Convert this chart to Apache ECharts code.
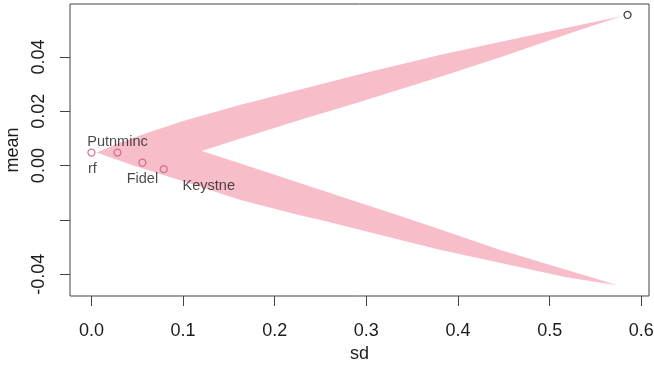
<!DOCTYPE html>
<html>
<head>
<meta charset="utf-8">
<script src="https://cdn.jsdelivr.net/npm/echarts@6/dist/echarts.min.js"></script>
<style>
html, body { margin: 0; padding: 0; background: #ffffff; }
#chart { width: 654px; height: 368px; }
</style>
</head>
<body>
<div id="chart"></div>
<script>
// Feasible region of random portfolios: boundary traced in four pieces
// upper band, outer edge (left tip -> top tip)
const upperOuterSd   = [0.0055, 0.0309, 0.0636, 0.1018, 0.1618, 0.2491, 0.2927, 0.3800, 0.4454, 0.5327, 0.5796];
const upperOuterMean = [0.0048, 0.0084, 0.0124, 0.0166, 0.0223, 0.0299, 0.0336, 0.0407, 0.0455, 0.0518, 0.0551];
// upper band, inner edge (top tip -> notch)
const upperInnerSd   = [0.5327, 0.4454, 0.3800, 0.2927, 0.2273, 0.1672, 0.1203];
const upperInnerMean = [0.0499, 0.0398, 0.0326, 0.0234, 0.0168, 0.0104, 0.0054];
// lower band, inner edge (notch -> bottom tip)
const lowerInnerSd   = [0.1618, 0.2273, 0.2927, 0.3363, 0.3800, 0.4454, 0.5181, 0.5741];
const lowerInnerMean = [0.0009, -0.0064, -0.0137, -0.0185, -0.0234, -0.0310, -0.0383, -0.0440];
// lower band, outer edge (bottom tip -> left tip)
const lowerOuterSd   = [0.5181, 0.4454, 0.3800, 0.3363, 0.2927, 0.2491, 0.2273, 0.1618, 0.1018, 0.0472];
const lowerOuterMean = [-0.0411, -0.0358, -0.0310, -0.0273, -0.0236, -0.0199, -0.0183, -0.0126, -0.0059, -0.0001];

// Individual assets
const assetNames = ['rf', 'Putnminc', 'Fidel', 'Keystne'];
const assetSd    = [0.0, 0.0284, 0.0556, 0.0789];
const assetMean  = [0.0048, 0.0048, 0.0011, -0.0013];

// Extreme portfolio (black marker)
const extremeSd   = [0.585];
const extremeMean = [0.0555];

// Axis ticks and labels
const xTicks = [0, 0.1, 0.2, 0.3, 0.4, 0.5, 0.6];
const xTickLabels = ['0.0', '0.1', '0.2', '0.3', '0.4', '0.5', '0.6'];
const yTicks = [-0.04, -0.02, 0, 0.02, 0.04];
const yLabelled = [-0.04, 0, 0.02, 0.04];
const yTickLabels = ['-0.04', '0.00', '0.02', '0.04'];

// label placement relative to each marker (pixels)
const labelOffsets = {
  rf: [1, 16],
  Putnminc: [0, -11],
  Fidel: [0, 16],
  Keystne: [45, 17]
};

const FONT = 'Liberation Sans, Arial, Helvetica, sans-serif';
const INK = '#1c1c1c';
const FRAME = '#444444';

function zip(a, b) { return a.map((v, i) => [v, b[i]]); }

const ring = [].concat(
  zip(upperOuterSd, upperOuterMean),
  zip(upperInnerSd, upperInnerMean),
  zip(lowerInnerSd, lowerInnerMean),
  zip(lowerOuterSd, lowerOuterMean)
);

const xLabelMap = {};
xTicks.forEach((t, i) => { xLabelMap[t.toFixed(1)] = xTickLabels[i]; });
const yLabelMap = {};
yLabelled.forEach((t, i) => { yLabelMap[t.toFixed(2)] = yTickLabels[i]; });

const chart = echarts.init(document.getElementById('chart'), null, { renderer: 'canvas' });

chart.setOption({
  animation: false,
  backgroundColor: '#ffffff',
  textStyle: { fontFamily: FONT },
  grid: {
    left: 70, right: 5, top: 4, bottom: 72,
    show: true, borderColor: FRAME, borderWidth: 1,
    containLabel: false,
    outerBoundsMode: 'none'
  },
  xAxis: {
    type: 'value',
    min: -0.0234, max: 0.6084,
    name: 'sd',
    nameLocation: 'middle',
    nameGap: 46,
    nameTextStyle: { fontSize: 18, color: INK, fontFamily: FONT },
    axisLine: { show: false, onZero: false },
    splitLine: { show: false },
    axisTick: { show: true, length: 10, lineStyle: { color: FRAME, width: 1 }, customValues: xTicks },
    axisLabel: {
      show: true, fontSize: 18, color: INK, fontFamily: FONT, margin: 26,
      customValues: xTicks,
      formatter: v => xLabelMap[Number(v).toFixed(1)] || ''
    }
  },
  yAxis: {
    type: 'value',
    min: -0.048, max: 0.0595,
    name: 'mean',
    nameLocation: 'middle',
    nameGap: 47,
    nameTextStyle: { fontSize: 18, color: INK, fontFamily: FONT },
    axisLine: { show: false, onZero: false },
    splitLine: { show: false },
    axisTick: { show: true, length: 10, lineStyle: { color: FRAME, width: 1 }, customValues: yTicks },
    axisLabel: {
      show: true, fontSize: 18, color: INK, fontFamily: FONT, margin: 22, rotate: 90,
      customValues: yLabelled,
      formatter: v => yLabelMap[Number(v).toFixed(2)] || ''
    }
  },
  series: [
    {
      type: 'custom',
      name: 'region',
      coordinateSystem: 'cartesian2d',
      data: [ring[0]],
      silent: true,
      z: 1,
      renderItem: function (params, api) {
        const pts = ring.map(p => api.coord(p));
        return {
          type: 'polygon',
          shape: { points: pts },
          style: { fill: '#F7BECA', stroke: 'none' }
        };
      }
    },
    {
      type: 'scatter',
      name: 'assets',
      z: 3,
      symbol: 'circle',
      symbolSize: 7,
      itemStyle: { color: 'rgba(0,0,0,0)', borderColor: '#C95C7C', borderWidth: 1.3 },
      label: {
        show: true,
        position: 'inside',
        fontSize: 14.5,
        color: INK,
        fontFamily: FONT,
        formatter: p => p.name
      },
      data: assetNames.map((n, i) => ({
        name: n,
        value: [assetSd[i], assetMean[i]],
        label: { offset: labelOffsets[n] }
      }))
    },
    {
      type: 'scatter',
      name: 'extreme',
      z: 3,
      symbol: 'circle',
      symbolSize: 7,
      itemStyle: { color: 'rgba(0,0,0,0)', borderColor: '#111111', borderWidth: 1.3 },
      data: zip(extremeSd, extremeMean)
    }
  ]
});
</script>
</body>
</html>
